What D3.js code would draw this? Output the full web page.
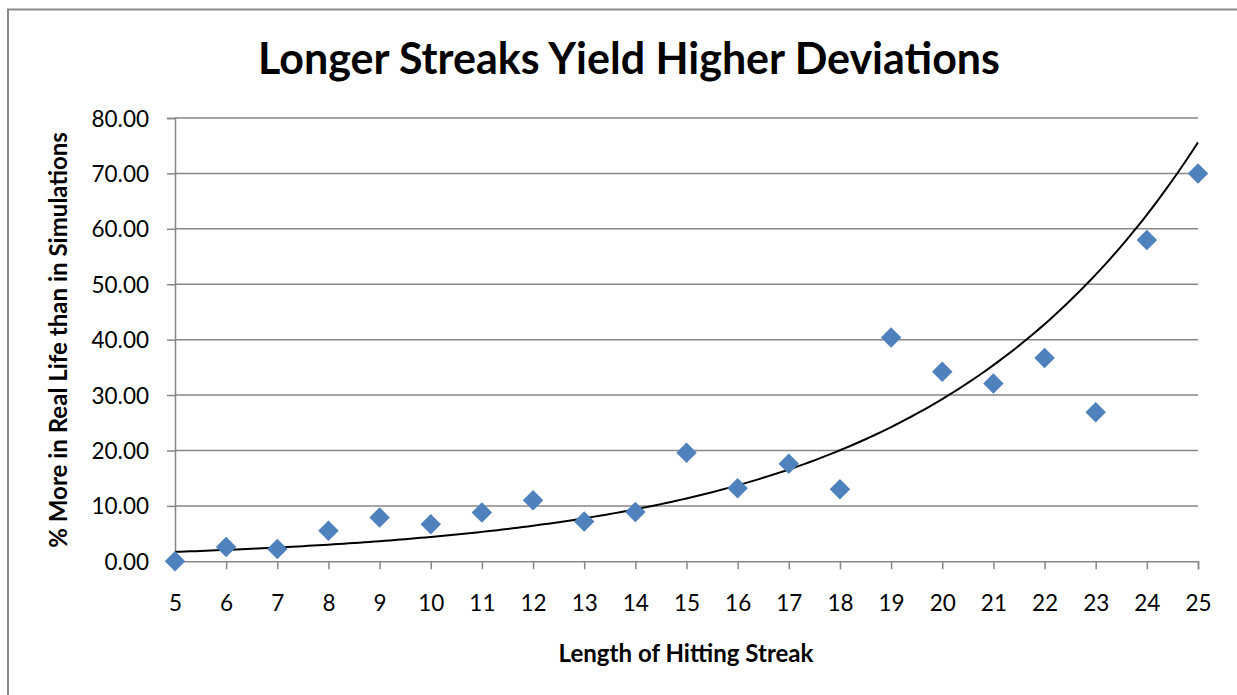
<!DOCTYPE html>
<html>
<head>
<meta charset="utf-8">
<script src="https://cdn.jsdelivr.net/npm/d3@7"></script>
<style>
  html, body { margin: 0; padding: 0; background: #fff; }
  svg { display: block; }
  text { font-family: "Lato", "Open Sans", sans-serif; fill: #000; }
</style>
</head>
<body>
<svg id="chart" width="1237" height="695"></svg>
<script>
// ---- data ----
const streakLengths = [5, 6, 7, 8, 9, 10, 11, 12, 13, 14, 15, 16, 17, 18, 19, 20, 21, 22, 23, 24, 25];
const pctMore = [0.0, 2.6, 2.2, 5.5, 7.9, 6.7, 8.8, 11.0, 7.2, 8.9, 19.6, 13.2, 17.6, 13.0, 40.4, 34.2, 32.1, 36.7, 26.9, 58.0, 70.0];
const yTicks = [0, 10, 20, 30, 40, 50, 60, 70, 80];
const xTicks = [5, 6, 7, 8, 9, 10, 11, 12, 13, 14, 15, 16, 17, 18, 19, 20, 21, 22, 23, 24, 25];
// exponential trendline y = a * exp(b * x), coefficients
const trendA = 0.659;
const trendB = 0.1897;
const titleText = "Longer Streaks Yield Higher Deviations";
const xTitle = "Length of Hitting Streak";
const yTitle = "% More in Real Life than in Simulations";

(function () {
// ---- layout ----
const svg = d3.select("#chart");
const pLeft = 175, pRight = 1198, pTop = 118, pBottom = 561.3;

// chart border (only top & left visible in the crop)
svg.append("rect")
  .attr("x", 8).attr("y", 9.5).attr("width", 1300).attr("height", 800)
  .attr("fill", "none").attr("stroke", "#8a8a8a").attr("stroke-width", 2);

const x = d3.scaleLinear().domain([5, 25]).range([pLeft, pRight]);
const y = d3.scaleLinear().domain([0, 80]).range([pBottom, pTop]);

// gridlines
svg.append("g").selectAll("line").data(yTicks.filter(d => d > 0)).join("line")
  .attr("x1", pLeft).attr("x2", pRight)
  .attr("y1", d => y(d)).attr("y2", d => y(d))
  .attr("stroke", "#878787").attr("stroke-width", 1.5);

// y axis
const yAxis = svg.append("g").attr("transform", `translate(${pLeft},0)`)
  .call(d3.axisLeft(y).tickValues(yTicks).tickFormat(d3.format(".2f")).tickSize(8).tickPadding(18));
yAxis.select(".domain").attr("stroke", "#878787").attr("stroke-width", 1.5);
yAxis.selectAll(".tick line").attr("stroke", "#878787").attr("stroke-width", 1.5);
yAxis.selectAll(".tick text").style("font-size", "22.5px").style("font-family", "Lato, 'Open Sans', sans-serif").attr("fill", "#000").attr("dy", "0.36em");

// x axis
const xAxis = svg.append("g").attr("transform", `translate(0,${pBottom})`)
  .call(d3.axisBottom(x).tickValues(xTicks).tickFormat(d3.format("d")).tickSize(8).tickPadding(26));
xAxis.select(".domain").attr("stroke", "#878787").attr("stroke-width", 1.5);
xAxis.selectAll(".tick line").attr("stroke", "#878787").attr("stroke-width", 1.5);
xAxis.selectAll(".tick text").style("font-size", "22.5px").style("font-family", "Lato, 'Open Sans', sans-serif").attr("fill", "#000");

// trendline
const trendX = d3.range(5, 25.0001, 0.1);
const line = d3.line().x(d => x(d)).y(d => y(trendA * Math.exp(trendB * d)));
svg.append("path").datum(trendX).attr("d", line)
  .attr("fill", "none").attr("stroke", "#000").attr("stroke-width", 2);

// markers (diamonds)
svg.append("g").selectAll("path").data(streakLengths).join("path")
  .attr("d", d3.symbol().type(d3.symbolSquare).size(210))
  .attr("transform", (d, i) => `translate(${x(d)},${y(pctMore[i])}) rotate(45)`)
  .attr("fill", "#4f81bd");

// titles
function fitText(sel, target) {
  const w = sel.node().getComputedTextLength();
  const fs = parseFloat(sel.style("font-size"));
  sel.style("font-size", (fs * target / w) + "px");
}
const t = svg.append("text").attr("x", 629).attr("y", 74).attr("text-anchor", "middle")
  .style("font-size", "40px").style("font-weight", "bold").text(titleText);
fitText(t, 742);

const xt = svg.append("text").attr("x", 686).attr("y", 662).attr("text-anchor", "middle")
  .style("font-size", "19px").style("font-weight", "bold").text(xTitle);
fitText(xt, 255);

const yt = svg.append("text").attr("transform", "translate(67,340) rotate(-90)").attr("text-anchor", "middle")
  .style("font-size", "19px").style("font-weight", "bold").text(yTitle);
fitText(yt, 416);
})();
</script>
</body>
</html>
